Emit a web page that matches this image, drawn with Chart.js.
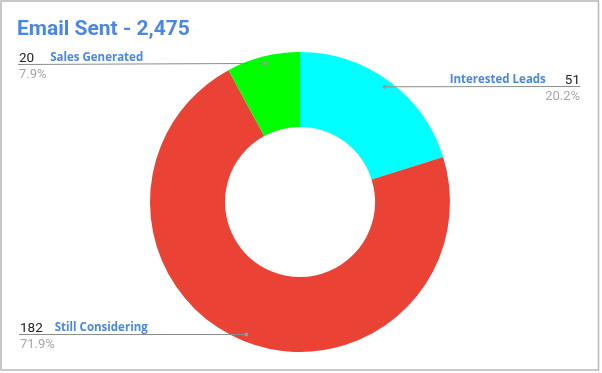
<!DOCTYPE html>
<html lang="en">
<head>
    <meta charset="UTF-8">
    <title>Email Sent</title>
    <script src="https://cdn.jsdelivr.net/npm/chart.js"></script>
    <style>
        html, body { margin: 0; padding: 0; background: #fff; }
        #wrap { width: 602px; height: 373px; position: relative; }
    </style>
</head>
<body>
<div id="wrap">
    <canvas id="myChart" width="602" height="373"></canvas>
</div>
<script>
    const chartTitle = 'Email Sent - 2,475';
    const labels = ['Interested Leads', 'Still Considering', 'Sales Generated'];
    const counts = [51, 182, 20];
    const percents = ['20.2%', '71.9%', '7.9%'];
    const colors = ['#00ffff', '#ea4335', '#00ff00'];

    // where each leader line ends and which side the text sits on
    const callouts = [
        { lineY: 86, x0: 385, x1: 580, side: 'right' },
        { lineY: 334, x0: 19, x1: 246, side: 'left' },
        { lineY: 64, x0: 18, x1: 265, side: 'left' }
    ];

    const blue = '#4a86e8';

    const decor = {
        id: 'decor',
        afterDraw(chart) {
            const ctx = chart.ctx;
            ctx.save();

            // frame
            ctx.strokeStyle = '#b7b7b7';
            ctx.lineWidth = 1.5;
            ctx.strokeRect(1, 1, 597.5, 369);

            // title
            ctx.fillStyle = blue;
            ctx.font = 'bold 21px Roboto';
            ctx.textBaseline = 'alphabetic';
            ctx.textAlign = 'left';
            ctx.fillText(chartTitle, 17, 35);

            const meta = chart.getDatasetMeta(0);
            meta.data.forEach((arc, i) => {
                const c = callouts[i];
                const mid = (arc.startAngle + arc.endAngle) / 2;
                const r = arc.outerRadius * 0.953;
                const px = arc.x + Math.cos(mid) * r;
                const py = arc.y + Math.sin(mid) * r;

                // leader line
                ctx.strokeStyle = '#8c8c8c';
                ctx.lineWidth = 1;
                ctx.beginPath();
                if (c.side === 'left') {
                    ctx.moveTo(c.x0, c.lineY + 0.5);
                    ctx.lineTo(px, py);
                } else {
                    ctx.moveTo(px, py);
                    ctx.lineTo(c.x1, c.lineY + 0.5);
                }
                ctx.stroke();
                ctx.fillStyle = '#9a9a9a';
                ctx.beginPath();
                ctx.arc(px, py, 2, 0, Math.PI * 2);
                ctx.fill();

                // texts
                ctx.textBaseline = 'alphabetic';
                const labelFont = 'bold 11.5px "Open Sans"';
                if (c.side === 'left') {
                    ctx.textAlign = 'left';
                    ctx.fillStyle = '#222';
                    ctx.font = '13.5px Roboto';
                    ctx.fillText(String(counts[i]), c.x0 + 1, c.lineY - 2);
                    const numW = ctx.measureText(String(counts[i])).width;
                    ctx.fillStyle = blue;
                    ctx.font = labelFont;
                    ctx.fillText(labels[i], c.x0 + numW + (counts[i] > 99 ? 13 : 17), c.lineY - 3);
                    ctx.fillStyle = '#a6a6a6';
                    ctx.font = '13px Roboto';
                    ctx.fillText(percents[i], c.x0 + 1, c.lineY + 14);
                } else {
                    ctx.textAlign = 'right';
                    ctx.fillStyle = '#222';
                    ctx.font = '13.5px Roboto';
                    ctx.fillText(String(counts[i]), c.x1, c.lineY - 2);
                    const numW = ctx.measureText(String(counts[i])).width;
                    ctx.fillStyle = blue;
                    ctx.font = labelFont;
                    ctx.fillText(labels[i], c.x1 - numW - 19, c.lineY - 3);
                    ctx.fillStyle = '#a6a6a6';
                    ctx.font = '13px Roboto';
                    ctx.fillText(percents[i], c.x1, c.lineY + 14);
                }
            });
            ctx.restore();
        }
    };

    new Chart(document.getElementById('myChart'), {
        type: 'doughnut',
        data: {
            labels: labels,
            datasets: [{
                data: counts,
                backgroundColor: colors,
                borderWidth: 0
            }]
        },
        options: {
            responsive: false,
            animation: false,
            cutout: '50%',
            layout: { padding: { top: 52, bottom: 21, left: 0, right: 2 } },
            plugins: {
                legend: { display: false },
                tooltip: { enabled: false },
                title: { display: false }
            }
        },
        plugins: [decor]
    });
</script>
</body>
</html>
